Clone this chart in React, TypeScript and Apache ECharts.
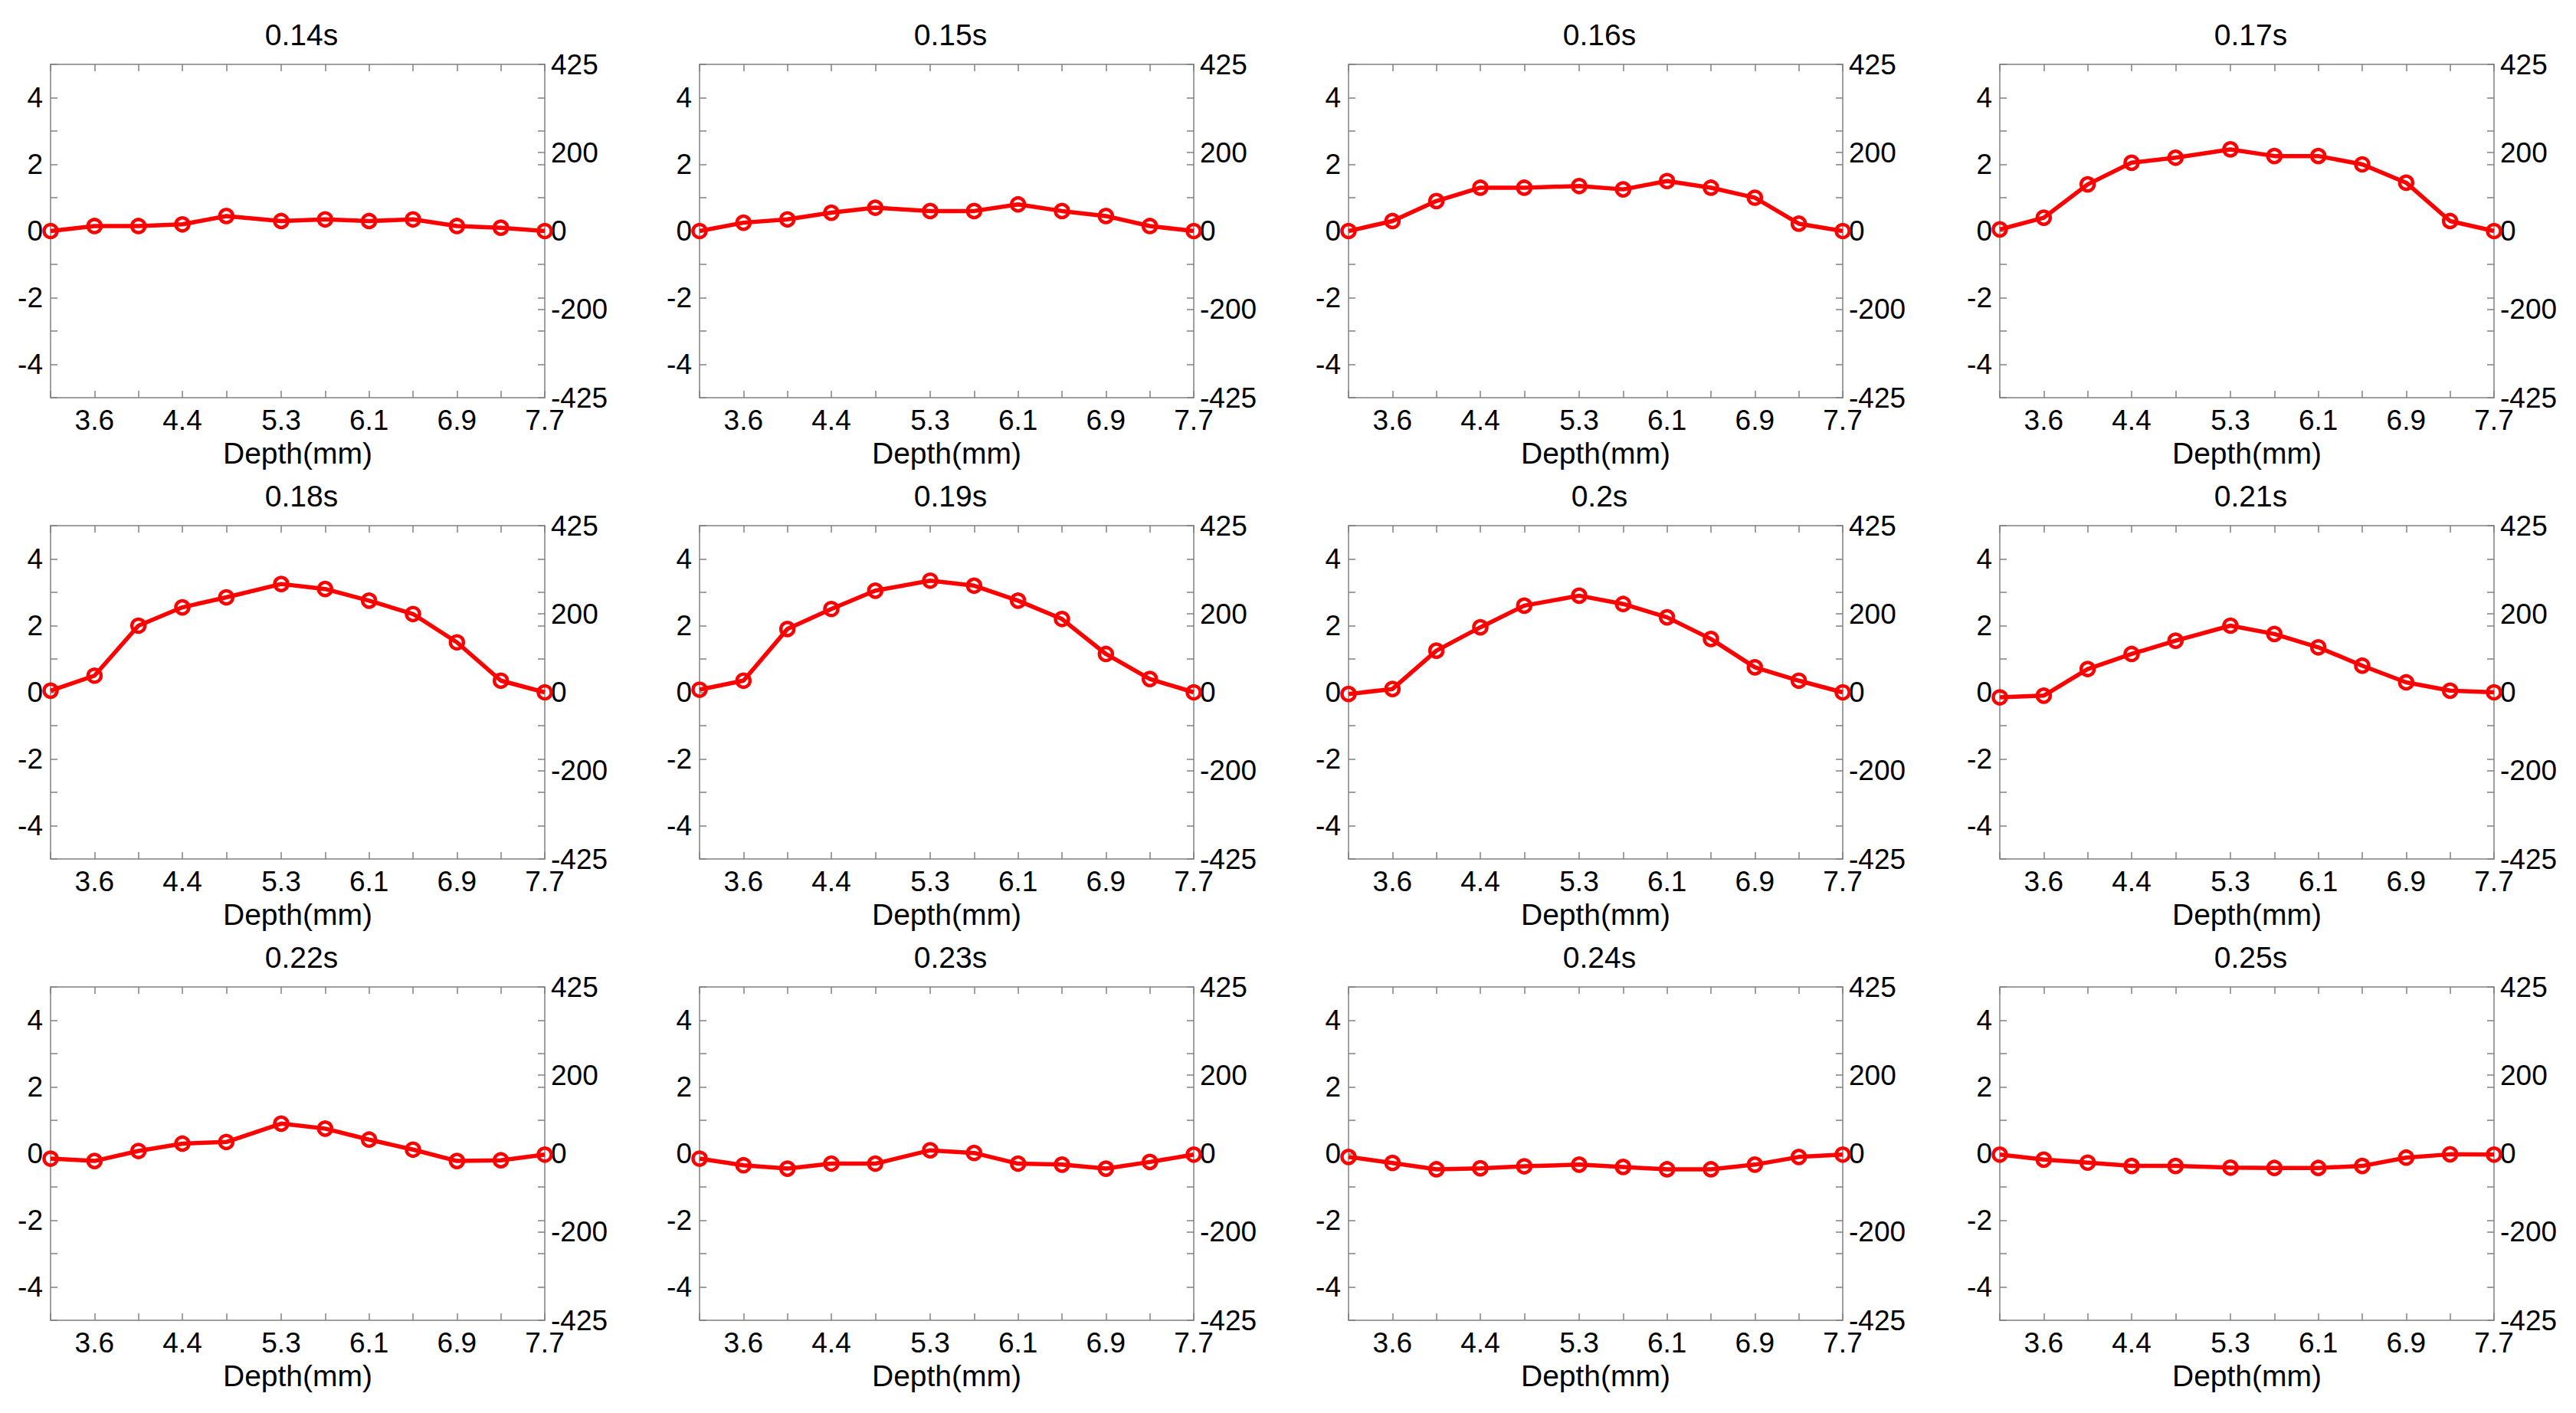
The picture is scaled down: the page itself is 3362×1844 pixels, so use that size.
import React, { useEffect, useRef } from 'react';
import * as echarts from 'echarts';

// depth positions (mm) where the profile was sampled
const depths = [3.2, 3.6, 4.0, 4.4, 4.8, 5.3, 5.7, 6.1, 6.5, 6.9, 7.3, 7.7];
const depthLabels = [3.6, 4.4, 5.3, 6.1, 6.9, 7.7];
const leftLabels = [-4, -2, 0, 2, 4];
const leftTicks = [-5, -4, -3, -2, -1, 0, 1, 2, 3, 4, 5];
const rightLabels = [-425, -200, 0, 200, 425];
// right side also carries the left-axis ticks (k * 85)
const rightTicks = [-425, -340, -255, -200, -170, -85, 0, 85, 170, 200, 255, 340, 425];

const times = ['0.14s', '0.15s', '0.16s', '0.17s', '0.18s', '0.19s', '0.2s', '0.21s', '0.22s', '0.23s', '0.24s', '0.25s'];

const t014 = [0, 0.15, 0.15, 0.2, 0.45, 0.3, 0.35, 0.3, 0.35, 0.15, 0.1, 0];
const t015 = [0, 0.25, 0.35, 0.55, 0.7, 0.6, 0.6, 0.8, 0.6, 0.45, 0.15, 0];
const t016 = [0, 0.3, 0.9, 1.3, 1.3, 1.35, 1.25, 1.5, 1.3, 1.0, 0.22, 0];
const t017 = [0.05, 0.4, 1.4, 2.05, 2.2, 2.45, 2.25, 2.25, 2.0, 1.45, 0.3, 0];
const t018 = [0.05, 0.5, 2.0, 2.55, 2.85, 3.25, 3.1, 2.75, 2.35, 1.5, 0.35, 0];
const t019 = [0.08, 0.35, 1.9, 2.5, 3.05, 3.35, 3.2, 2.75, 2.2, 1.15, 0.4, 0];
const t020 = [-0.05, 0.1, 1.25, 1.95, 2.6, 2.9, 2.65, 2.25, 1.6, 0.75, 0.35, 0];
const t021 = [-0.15, -0.1, 0.7, 1.15, 1.55, 2.0, 1.75, 1.35, 0.8, 0.3, 0.05, 0];
const t022 = [-0.15, -0.22, 0.08, 0.3, 0.35, 0.9, 0.75, 0.42, 0.12, -0.22, -0.2, -0.03];
const t023 = [-0.15, -0.35, -0.45, -0.3, -0.3, 0.1, 0.02, -0.3, -0.33, -0.45, -0.25, -0.03];
const t024 = [-0.1, -0.28, -0.47, -0.44, -0.38, -0.33, -0.4, -0.47, -0.47, -0.33, -0.1, -0.03];
const t025 = [-0.03, -0.18, -0.27, -0.37, -0.37, -0.42, -0.43, -0.43, -0.37, -0.12, -0.02, -0.03];

const profiles = [t014, t015, t016, t017, t018, t019, t020, t021, t022, t023, t024, t025];

const FONT = "'Liberation Sans', Arial, Helvetica, sans-serif";
const AXIS_GRAY = '#808080';

const colLeft = [66, 913, 1760, 2610];
const rowTop = [84, 686, 1288];
const plotW = 645;
const plotH = 435;

const App: React.FC = () => {
  const chartRef = useRef<HTMLDivElement>(null);

  useEffect(() => {
    document.body.style.margin = '0';
    if (!chartRef.current) return;
    const chart = echarts.init(chartRef.current, undefined, { renderer: 'svg' });

    const grids: any[] = [];
    const titles: any[] = [];
    const xAxes: any[] = [];
    const yAxes: any[] = [];
    const series: any[] = [];

    const axisLine = { show: true, onZero: false, lineStyle: { color: AXIS_GRAY, width: 1.5 } };
    const tickStyle = { color: AXIS_GRAY, width: 1.5 };
    const tickFont = { fontFamily: FONT, fontSize: 37, color: '#000' };

    profiles.forEach((vals, i) => {
      const row = Math.floor(i / 4);
      const col = i % 4;
      const left = colLeft[col];
      const top = rowTop[row];

      grids.push({ left, top, width: plotW, height: plotH, containLabel: false });

      titles.push({
        text: times[i],
        left: left + plotW / 2,
        top: top - 63,
        textAlign: 'center',
        textStyle: { fontFamily: FONT, fontSize: 39, fontWeight: 'normal', color: '#000' },
      });

      // bottom x axis
      xAxes.push({
        type: 'value',
        gridIndex: i,
        position: 'bottom',
        min: 3.2,
        max: 7.7,
        name: 'Depth(mm)',
        nameLocation: 'middle',
        nameGap: 53,
        nameTextStyle: { fontFamily: FONT, fontSize: 39, color: '#000' },
        axisLine,
        axisTick: { show: true, inside: true, length: 9, lineStyle: tickStyle, customValues: depths },
        axisLabel: {
          show: true,
          margin: 14,
          ...tickFont,
          lineHeight: 30,
          customValues: depthLabels,
          showMinLabel: true,
          showMaxLabel: true,
          formatter: (v: number) => String(Math.round(v * 10) / 10),
        },
        splitLine: { show: false },
      });
      // top mirror
      xAxes.push({
        type: 'value',
        gridIndex: i,
        position: 'top',
        min: 3.2,
        max: 7.7,
        axisLine,
        axisTick: { show: true, inside: true, length: 9, lineStyle: tickStyle, customValues: depths },
        axisLabel: { show: false },
        splitLine: { show: false },
      });

      // left y axis
      yAxes.push({
        type: 'value',
        gridIndex: i,
        position: 'left',
        min: -5,
        max: 5,
        axisLine,
        axisTick: { show: true, inside: true, length: 9, lineStyle: tickStyle, customValues: leftTicks },
        axisLabel: { show: true, margin: 10, ...tickFont, lineHeight: 28, customValues: leftLabels },
        splitLine: { show: false },
      });
      // right y axis
      yAxes.push({
        type: 'value',
        gridIndex: i,
        position: 'right',
        min: -425,
        max: 425,
        axisLine,
        axisTick: { show: true, inside: true, length: 9, lineStyle: tickStyle, customValues: rightTicks },
        axisLabel: {
          show: true,
          margin: 8,
          ...tickFont,
          lineHeight: 28,
          customValues: rightLabels,
          showMinLabel: true,
          showMaxLabel: true,
        },
        splitLine: { show: false },
      });

      series.push({
        type: 'line',
        name: times[i],
        xAxisIndex: i * 2,
        yAxisIndex: i * 2,
        data: depths.map((d, k) => [d, vals[k]]),
        symbol: 'circle',
        symbolSize: 17,
        clip: false,
        lineStyle: { color: '#ff0000', width: 5.5 },
        itemStyle: { color: 'rgba(0,0,0,0)', borderColor: '#ff0000', borderWidth: 4.5 },
        emphasis: { disabled: true },
        z: 3,
      });
    });

    chart.setOption({
      animation: false,
      backgroundColor: '#fff',
      title: titles,
      grid: grids,
      xAxis: xAxes,
      yAxis: yAxes,
      series,
    });

    return () => {
      chart.dispose();
    };
  }, []);

  return <div ref={chartRef} style={{ width: 3362, height: 1844 }} />;
};

export default App;
